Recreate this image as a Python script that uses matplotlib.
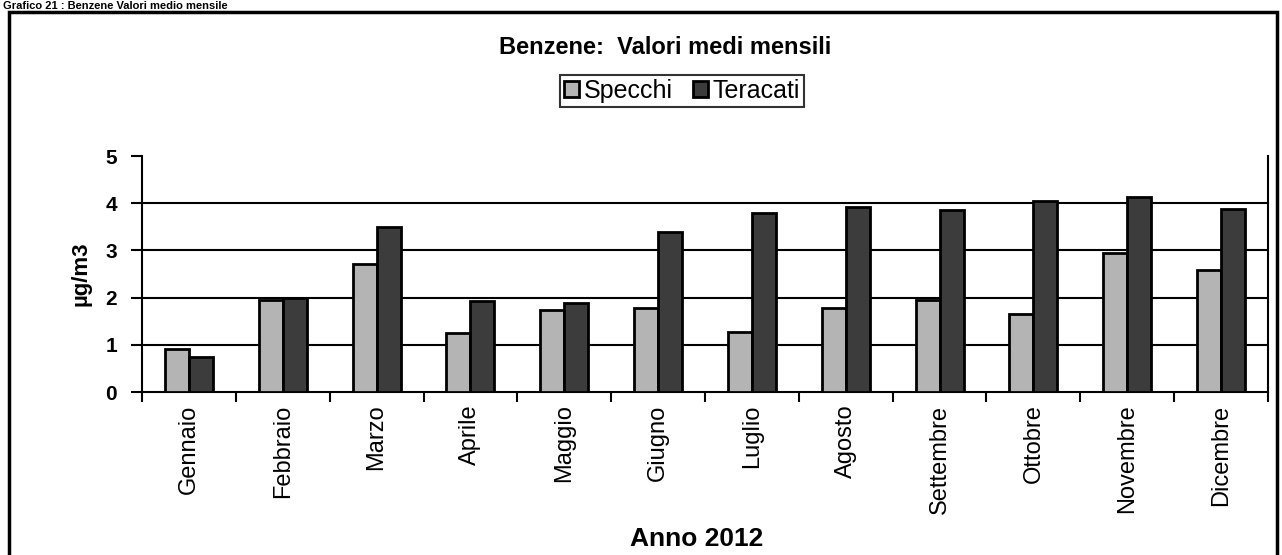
import numpy as np
import matplotlib
matplotlib.use("Agg")
import matplotlib.pyplot as plt
from matplotlib.patches import Rectangle

plt.rcParams['font.family'] = ['Liberation Sans', 'DejaVu Sans']

mesi = ["Gennaio", "Febbraio", "Marzo", "Aprile", "Maggio", "Giugno",
        "Luglio", "Agosto", "Settembre", "Ottobre", "Novembre", "Dicembre"]
specchi = [0.91, 1.95, 2.72, 1.26, 1.74, 1.78, 1.27, 1.79, 1.95, 1.66, 2.95, 2.58]
teracati = [0.74, 1.99, 3.49, 1.93, 1.88, 3.38, 3.79, 3.91, 3.86, 4.05, 4.13, 3.88]
y_ticks = [0, 1, 2, 3, 4, 5]

fig = plt.figure(figsize=(12.82, 5.55), dpi=100)
ax = fig.add_axes([142 / 1282, 1 - 392 / 555, (1268 - 142) / 1282, (392 - 156) / 555])

x = np.arange(len(mesi))
w = 0.255
ax.bar(x - w / 2, specchi, w, color="#b4b4b4", edgecolor="black", linewidth=2,
       label="Specchi", zorder=3)
ax.bar(x + w / 2, teracati, w, color="#3c3c3c", edgecolor="black", linewidth=2,
       label="Teracati", zorder=3)

ax.set_xlim(-0.5, len(mesi) - 0.5)
ax.set_ylim(0, 5)
ax.set_yticks(y_ticks)
ax.set_yticklabels([str(v) for v in y_ticks], fontsize=15, fontweight="bold")
for v in y_ticks[1:-1]:
    ax.axhline(v, color="black", linewidth=1.5, zorder=1)

ax.set_xticks(x)
ax.set_xticklabels(mesi, rotation=90, fontsize=17)
ax.tick_params(axis="x", length=0, pad=9)
ax.set_xticks(np.arange(len(mesi) + 1) - 0.5, minor=True)
ax.tick_params(axis="x", which="minor", length=7, width=1.5, direction="out")
ax.tick_params(axis="y", length=8, width=1.5, direction="out", pad=10)

ax.spines["top"].set_visible(False)
for s in ["left", "right", "bottom"]:
    ax.spines[s].set_linewidth(1.5)

ax.set_ylabel("µg/m3", fontsize=16, fontweight="bold")
ax.yaxis.set_label_coords(-0.045, 0.5)
ax.set_xlabel("Anno 2012", fontsize=19, fontweight="bold")
ax.xaxis.set_label_coords(0.493, -0.57)

fig.text(0.519, 1 - 48 / 555, "Benzene:  Valori medi mensili", ha="center", va="center",
         fontsize=17, fontweight="bold")
leg = fig.legend(loc="center", bbox_to_anchor=(682 / 1282, 1 - 91 / 555), ncol=2, fontsize=18,
                 frameon=True, fancybox=False, edgecolor="black", handlelength=0.6,
                 handleheight=0.6, handletextpad=0.2, columnspacing=0.8,
                 borderpad=0.15, borderaxespad=0)
leg.get_frame().set_linewidth(1.5)

fig.text(0.002, 0.998, "Grafico 21 : Benzene Valori medio mensile", ha="left",
         va="top", fontsize=8, fontweight="bold")
fig.patches.append(Rectangle((9 / 1282, -0.05), (1277 - 9) / 1282, 1.05 - 12 / 555,
                             transform=fig.transFigure, fill=False, edgecolor="black",
                             linewidth=2.5))

fig.savefig("out.png", dpi=100)
